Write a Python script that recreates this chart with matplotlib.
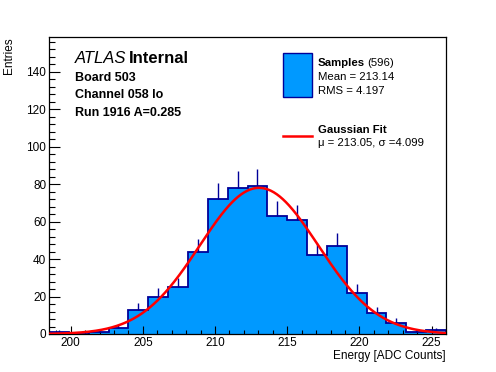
import numpy as np
import matplotlib
matplotlib.use("Agg")
import matplotlib.pyplot as plt
from matplotlib.ticker import MultipleLocator

plt.rcParams['font.family'] = ['Liberation Sans', 'DejaVu Sans']

# histogram data
bin_lo, bin_hi, n_bins = 198.5, 226.0, 20
counts = [1, 0, 1, 3, 13, 20, 25, 44, 72, 78, 79, 63, 61, 42, 47, 22, 11, 6, 1, 2]
n_samples = 596
mean_val, rms_val = 213.14, 4.197
fit_mu, fit_sigma, fit_const = 213.05, 4.099, 78.0

board, channel, run, amp = "503", "058 lo", "1916", "0.285"

fill_col = "#0099ff"
line_col = "#000099"

W, H = 496, 372
fig = plt.figure(figsize=(W / 100, H / 100), dpi=100)
ax = fig.add_axes([49 / W, 1 - 334 / H, (446 - 49) / W, (334 - 37) / H])

counts = np.array(counts, dtype=float)
edges = np.linspace(bin_lo, bin_hi, n_bins + 1)
centers = 0.5 * (edges[:-1] + edges[1:])

ax.stairs(counts, edges, fill=True, color=fill_col, zorder=1)
ax.stairs(counts, edges, fill=False, color=line_col, lw=1.3, zorder=2)
ax.errorbar(centers, counts, yerr=[np.zeros_like(counts), np.sqrt(counts)],
            fmt="none", ecolor=line_col, elinewidth=1.0, capsize=0, zorder=2)

# gaussian fit curve
xf = np.linspace(bin_lo, bin_hi, 400)
yf = fit_const * np.exp(-0.5 * ((xf - fit_mu) / fit_sigma) ** 2)
ax.plot(xf, yf, color="red", lw=1.8, zorder=3)

ax.set_xlim(bin_lo, bin_hi)
ax.set_ylim(0, 158.5)

ax.xaxis.set_major_locator(MultipleLocator(5))
ax.xaxis.set_minor_locator(MultipleLocator(1))
ax.yaxis.set_major_locator(MultipleLocator(20))
ax.yaxis.set_minor_locator(MultipleLocator(4))
ax.tick_params(axis="both", which="both", direction="in", labelsize=8.5,
               top=False, right=False, width=0.8)
ax.tick_params(axis="x", which="major", length=6, pad=2.5)
ax.tick_params(axis="x", which="minor", length=3)
ax.tick_params(axis="y", which="major", length=8, pad=2)
ax.tick_params(axis="y", which="minor", length=4)
for s in ax.spines.values():
    s.set_linewidth(0.9)

fig.text(446 / W, 1 - 358.5 / H, "Energy [ADC Counts]", ha="right", va="baseline", fontsize=8.5)
fig.text(15 / W, 1 - 37 / H, "Entries", ha="right", va="top", rotation=90, fontsize=8.5)


def px(x, y, s, **kw):
    fig.text(x / W, 1 - y / H, s, va="baseline", **kw)


px(75, 63, "ATLAS", fontsize=12, style="italic")
px(129, 63, "Internal", fontsize=12, weight="bold")
px(75, 81, "Board " + board, fontsize=9, weight="bold")
px(75, 98.5, "Channel " + channel, fontsize=9, weight="bold")
px(75, 116, "Run %s A=%s" % (run, amp), fontsize=9, weight="bold")

# legend
box = plt.Rectangle((283 / W, 1 - 97 / H), 29 / W, 44 / H, transform=fig.transFigure,
                    facecolor=fill_col, edgecolor=line_col, lw=1.0)
fig.add_artist(box)
px(318, 66, "Samples", fontsize=8.2, weight="bold")
px(367, 66, "(%d)" % n_samples, fontsize=8.2)
px(318, 80, "Mean = %.2f" % mean_val, fontsize=8.2)
px(318, 94, "RMS = %.3f" % rms_val, fontsize=8.2)
fig.add_artist(plt.Line2D([283 / W, 312 / W], [1 - 136 / H, 1 - 136 / H],
                          transform=fig.transFigure, color="red", lw=1.8))
px(318, 133, "Gaussian Fit", fontsize=8.2, weight="bold")
px(318, 146, "\u03bc = %.2f, \u03c3 =%.3f" % (fit_mu, fit_sigma), fontsize=8.2)

fig.savefig("out.png", dpi=100)
